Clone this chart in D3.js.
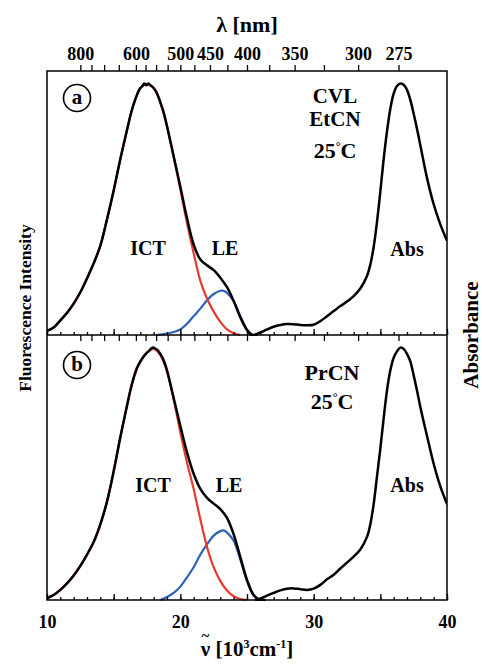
<!DOCTYPE html>
<html><head><meta charset="utf-8">
<script src="https://cdn.jsdelivr.net/npm/d3@7"></script>
<style>
body{margin:0;background:#fff;}
text{font-family:"Liberation Serif","Times New Roman",serif;font-weight:bold;fill:#000;}
</style></head>
<body><svg id="c" width="482" height="664"></svg>
<script>
// ---- data (wavenumber in 10^3 cm^-1, normalized intensity) ----
const lambdaTicks = [800,750,700,650,600,575,550,525,500,475,450,425,400,375,350,325,300,275];
const lambdaLabels = [800,600,500,450,400,350,300,275];
const nuMinor = d3.range(10,41,1);
const nuMajor = [10,15,20,25,30,35,40];
const nuLabels = [10,20,30,40];

const emissionA = [[10,0.017],[10.5,0.03],[11,0.058],[11.5,0.088],[12,0.125],[12.5,0.17],[13,0.225],[13.5,0.285],[14,0.355],[14.5,0.46],[15,0.575],[15.5,0.70],[16,0.815],[16.25,0.872],[16.5,0.918],[16.75,0.955],[17,0.982],[17.15,0.99],[17.3,1.0],[17.45,0.993],[17.6,1.0],[17.75,0.993],[17.9,0.988],[18.1,0.975],[18.3,0.955],[18.5,0.925],[18.75,0.885],[19,0.83],[19.5,0.71],[20,0.59],[20.5,0.465],[21,0.36],[21.5,0.3],[22,0.277],[22.5,0.258],[23,0.228],[23.5,0.19],[24,0.135],[24.5,0.07],[25,0.02],[25.4,0.0],[25.8,0.0]];
const ictA = [[10,0.017],[10.5,0.03],[11,0.058],[11.5,0.088],[12,0.125],[12.5,0.17],[13,0.225],[13.5,0.285],[14,0.355],[14.5,0.46],[15,0.575],[15.5,0.70],[16,0.815],[16.5,0.918],[17,0.982],[17.5,0.998],[18,0.982],[18.5,0.925],[19,0.83],[19.5,0.71],[20,0.58],[20.5,0.445],[21,0.325],[21.5,0.215],[22,0.145],[22.5,0.093],[23,0.052],[23.5,0.022],[24,0.007],[24.5,0.0]];
const leA = [[18.2,0.0],[19,0.006],[19.5,0.012],[20,0.022],[20.5,0.045],[21,0.075],[21.5,0.105],[22,0.138],[22.5,0.163],[23,0.176],[23.3,0.175],[23.6,0.162],[24,0.135],[24.5,0.075],[25,0.02],[25.3,0.0]];
const absA = [[25.2,0.0],[25.5,0.0],[26,0.01],[26.5,0.022],[27,0.033],[27.5,0.04],[28,0.044],[28.5,0.043],[29,0.04],[29.5,0.039],[30,0.041],[30.5,0.055],[31,0.075],[31.5,0.095],[32,0.115],[32.5,0.133],[33,0.155],[33.5,0.185],[34,0.235],[34.25,0.28],[34.5,0.35],[34.75,0.45],[35,0.57],[35.25,0.70],[35.5,0.81],[35.75,0.9],[36,0.96],[36.25,0.99],[36.5,1.0],[36.75,0.995],[37,0.975],[37.25,0.935],[37.5,0.88],[37.75,0.82],[38,0.755],[38.5,0.625],[39,0.52],[39.5,0.44],[40,0.375]];

const emissionB = [[10,0.007],[10.5,0.02],[11,0.04],[11.5,0.066],[12,0.097],[12.5,0.135],[13,0.18],[13.5,0.23],[14,0.3],[14.5,0.39],[15,0.51],[15.5,0.645],[16,0.77],[16.25,0.83],[16.5,0.88],[16.75,0.92],[17,0.945],[17.25,0.965],[17.5,0.98],[17.7,0.99],[17.85,0.998],[18,1.0],[18.15,0.995],[18.3,0.99],[18.5,0.975],[18.75,0.95],[19,0.91],[19.5,0.8],[20,0.69],[20.5,0.585],[21,0.5],[21.5,0.44],[22,0.405],[22.5,0.382],[23,0.36],[23.5,0.325],[24,0.26],[24.5,0.17],[25,0.08],[25.5,0.02],[26,0.0],[26.4,0.0]];
const ictB = [[10,0.007],[10.5,0.02],[11,0.04],[11.5,0.066],[12,0.097],[12.5,0.135],[13,0.18],[13.5,0.23],[14,0.3],[14.5,0.39],[15,0.51],[15.5,0.645],[16,0.77],[16.5,0.88],[17,0.945],[17.5,0.98],[18,0.995],[18.5,0.97],[19,0.905],[19.5,0.795],[20,0.665],[20.5,0.545],[21,0.44],[21.5,0.32],[22,0.21],[22.5,0.13],[23,0.075],[23.5,0.038],[24,0.015],[24.5,0.004],[25,0.0]];
const leB = [[18.5,0.0],[19,0.012],[19.5,0.028],[20,0.053],[20.5,0.09],[21,0.13],[21.5,0.18],[22,0.22],[22.5,0.255],[23,0.273],[23.3,0.275],[23.6,0.262],[24,0.235],[24.5,0.16],[25,0.075],[25.4,0.025],[25.8,0.0]];
const absB = [[25.6,0.0],[26,0.005],[26.5,0.017],[27,0.028],[27.5,0.038],[28,0.045],[28.5,0.046],[29,0.043],[29.5,0.04],[30,0.045],[30.5,0.06],[31,0.082],[31.5,0.1],[32,0.125],[32.5,0.148],[33,0.172],[33.5,0.2],[34,0.25],[34.25,0.3],[34.5,0.38],[34.75,0.49],[35,0.6],[35.25,0.72],[35.5,0.83],[35.75,0.91],[36,0.96],[36.25,0.985],[36.5,1.0],[36.75,0.995],[37,0.975],[37.25,0.945],[37.5,0.89],[37.75,0.83],[38,0.765],[38.5,0.65],[39,0.54],[39.5,0.45],[40,0.38]];

// ---- layout ----
const svg = d3.select("#c");
const L=47, R=447, T=71, M=335, B=600;
const x = d3.scaleLinear().domain([10,40]).range([L,R]);
const yA = d3.scaleLinear().domain([0,1.05]).range([M,T]);
const yB = d3.scaleLinear().domain([0,1.05]).range([B,M]);

const clip = svg.append("defs");
clip.append("clipPath").attr("id","ca").append("rect").attr("x",L).attr("y",T).attr("width",R-L).attr("height",M-T+1);
clip.append("clipPath").attr("id","cb").append("rect").attr("x",L).attr("y",M).attr("width",R-L).attr("height",B-M+1);

function drawPanel(y, clipId, em, ict, le, abs){
  const g = svg.append("g").attr("clip-path",`url(#${clipId})`);
  const line = d3.line().x(d=>x(d[0])).y(d=>y(d[1])).curve(d3.curveCatmullRom.alpha(0.5));
  g.append("path").datum(le).attr("d",line).attr("fill","none").attr("stroke","#2f62b6").attr("stroke-width",2.2);
  g.append("path").datum(ict).attr("d",line).attr("fill","none").attr("stroke","#e8392f").attr("stroke-width",2.2);
  g.append("path").datum(em).attr("d",line).attr("fill","none").attr("stroke","#000").attr("stroke-width",2.5);
  g.append("path").datum(abs).attr("d",line).attr("fill","none").attr("stroke","#000").attr("stroke-width",2.5);
}
drawPanel(yA,"ca",emissionA,ictA,leA,absA);
drawPanel(yB,"cb",emissionB,ictB,leB,absB);

// frame
svg.append("rect").attr("x",L).attr("y",T).attr("width",R-L).attr("height",B-T).attr("fill","none").attr("stroke","#000").attr("stroke-width",1.5);
svg.append("line").attr("x1",L).attr("x2",R).attr("y1",M).attr("y2",M).attr("stroke","#000").attr("stroke-width",1.5);

function styleAxis(g){ g.select(".domain").remove(); g.selectAll("line").attr("stroke","#000").attr("stroke-width",1.3); g.selectAll("text").attr("font-family","Liberation Serif, serif").attr("font-weight","bold").attr("font-size",18).attr("fill","#000"); }

// wavenumber ticks (bottom & separator), pointing up
[B,M].forEach((yy,i)=>{
  svg.append("g").attr("transform",`translate(0,${yy})`).call(d3.axisBottom(x).tickValues(nuMinor).tickSize(-3).tickFormat("")).call(styleAxis);
  svg.append("g").attr("transform",`translate(0,${yy})`).call(d3.axisBottom(x).tickValues(nuMajor).tickSize(-6).tickPadding(15)
     .tickFormat(d => (i===0 && nuLabels.includes(d)) ? d : "")).call(styleAxis);
});
// wavelength ticks: top (outward) and separator (down into panel b)
const lamPos = lambdaTicks.map(l=>1e4/l);
svg.append("g").attr("transform",`translate(0,${T})`).call(d3.axisTop(x).tickValues(lamPos).tickSize(6).tickPadding(5)
   .tickFormat(v => { const l=Math.round(1e4/v); return lambdaLabels.includes(l) ? l : ""; })).call(styleAxis);
svg.append("g").attr("transform",`translate(0,${M})`).call(d3.axisBottom(x).tickValues(lamPos).tickSize(6).tickFormat("")).call(styleAxis);

// titles
svg.append("text").attr("x",247).attr("y",32).attr("text-anchor","middle").attr("font-size",22).text("λ [nm]");
const xt = svg.append("text").attr("y",656).attr("font-size",21);
xt.append("tspan").text("ν");
xt.append("tspan").text(" [10");
xt.append("tspan").attr("dy",-8).attr("font-size",12).text("3");
xt.append("tspan").attr("dy",8).text("cm");
xt.append("tspan").attr("dy",-8).attr("font-size",12).text("-1");
xt.append("tspan").attr("dy",8).text("]");
const w = xt.node().getComputedTextLength();
xt.attr("x", 247 - w/2);
const s0 = xt.node().getStartPositionOfChar(0).x, e0 = xt.node().getEndPositionOfChar(0).x;
svg.append("text").attr("x",(s0+e0)/2).attr("y",641).attr("text-anchor","middle").attr("font-size",15).text("~");

svg.append("text").attr("transform","translate(31,308) rotate(-90)").attr("text-anchor","middle").attr("font-size",17.5).text("Fluorescence Intensity");
svg.append("text").attr("transform","translate(478,335) rotate(-90)").attr("text-anchor","middle").attr("font-size",21).text("Absorbance");

// panel labels
[["a",98],["b",365]].forEach(([t,cy])=>{
  svg.append("circle").attr("cx",77).attr("cy",cy).attr("r",13.5).attr("fill","none").attr("stroke","#000").attr("stroke-width",1.6);
  svg.append("text").attr("x",77).attr("y",cy+6).attr("text-anchor","middle").attr("font-size",21).text(t);
});
function lbl(t,xx,yy,fs){ return svg.append("text").attr("x",xx).attr("y",yy).attr("text-anchor","middle").attr("font-size",fs).text(t); }
function deg(xx,yy){
  const t = svg.append("text").attr("x",xx).attr("y",yy).attr("text-anchor","middle").attr("font-size",22);
  t.append("tspan").text("25");
  t.append("tspan").attr("dy",-8).attr("font-size",12).text("°");
  t.append("tspan").attr("dy",8).text("C");
}
lbl("ICT",148,255,20); lbl("LE",225,255,20); lbl("Abs",407,256,20);
lbl("CVL",335,103,21); lbl("EtCN",335,126,21); deg(335,158);
lbl("ICT",153,492,20); lbl("LE",229,492,20); lbl("Abs",407,492,20);
lbl("PrCN",332,380,22); deg(332,409);
</script></body></html>
